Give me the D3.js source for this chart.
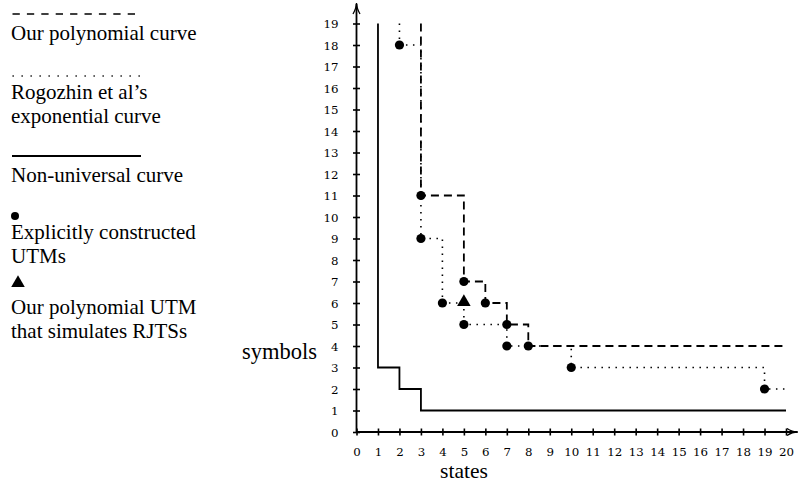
<!DOCTYPE html>
<html>
<head>
<meta charset="utf-8">
<script src="https://cdn.jsdelivr.net/npm/d3@7"></script>
<style>
  body{margin:0;background:#fff;}
  svg{display:block;}
  .lbl{font-family:"Liberation Serif","Times New Roman",serif;font-size:22.5px;fill:#000;}
  .leg{font-family:"Liberation Serif","Times New Roman",serif;font-size:21px;fill:#000;}
  .tick text{font-family:"DejaVu Serif",serif;font-size:11.8px;fill:#000;}
</style>
</head>
<body>
<svg id="svg" width="801" height="483"></svg>
<script>
// axis ticks
const stateTicks=[0,1,2,3,4,5,6,7,8,9,10,11,12,13,14,15,16,17,18,19,20];
const symbolTicks=[0,1,2,3,4,5,6,7,8,9,10,11,12,13,14,15,16,17,18,19];

// step curves as [states, symbols]
const polyCurve=[[3,19],[3,11],[5,11],[5,7],[6,7],[6,6],[7,6],[7,5],[8,5],[8,4],[20,4]];
const expCurve=[[2,19],[2,18],[3,18],[3,9],[4,9],[4,6],[5,6],[5,5],[7,5],[7,4],[10,4],[10,3],[19,3],[19,2],[20,2]];
const nonUniversalCurve=[[1,19],[1,3],[2,3],[2,2],[3,2],[3,1],[20,1]];

// machines
const utmPoints=[[2,18],[3,11],[3,9],[4,6],[5,7],[5,5],[6,6],[7,5],[7,4],[8,4],[10,3],[19,2]];
const rjtsPoints=[[5,6]];

// legend
const legendItems=[
  {kind:"dashed",y:14,lines:["Our polynomial curve"],ty:40},
  {kind:"dotted",y:76,lines:["Rogozhin et al\u2019s","exponential curve"],ty:99},
  {kind:"solid",y:156,lines:["Non-universal curve"],ty:182},
  {kind:"dot",y:216,lines:["Explicitly constructed","UTMs"],ty:239},
  {kind:"tri",y:283,lines:["Our polynomial UTM","that simulates RJTSs"],ty:314}
];

var svg=d3.select("#svg");

var x=d3.scaleLinear().domain([0,20]).range([356.5,786]);
var y=d3.scaleLinear().domain([0,19]).range([432,23.5]);

// axes
var xAxis=svg.append("g").attr("transform","translate(0,"+y(0)+")")
    .call(d3.axisBottom(x).tickValues(stateTicks).tickSize(0).tickFormat(d=>d))
xAxis.select(".domain").remove();
xAxis.selectAll(".tick text").attr("y",23.5).attr("dy",0);
xAxis.selectAll(".tick").append("line").attr("y1",-3.5).attr("y2",3.5).attr("stroke","#000").attr("stroke-width",1.6);

var yAxis=svg.append("g").attr("transform","translate("+x(0)+",0)")
    .call(d3.axisLeft(y).tickValues(symbolTicks).tickSize(0).tickPadding(18).tickFormat(d=>d))
yAxis.select(".domain").remove();
yAxis.selectAll(".tick text").attr("dy","0.36em");
yAxis.selectAll(".tick").append("line").attr("x1",-3.5).attr("x2",3.5).attr("stroke","#000").attr("stroke-width",1.6);

// axis lines with arrows
svg.append("line").attr("x1",x(0)).attr("y1",y(0)).attr("x2",x(0)).attr("y2",4)
    .attr("stroke","#000").attr("stroke-width",1.8);
svg.append("path").attr("d","M"+(x(0)-3.5)+",14 Q"+x(0)+",8 "+x(0)+",3 Q"+x(0)+",8 "+(x(0)+3.5)+",14")
    .attr("fill","none").attr("stroke","#000").attr("stroke-width",1.3);
svg.append("line").attr("x1",x(0)).attr("y1",y(0)).attr("x2",797).attr("y2",y(0))
    .attr("stroke","#000").attr("stroke-width",1.8);
svg.append("path").attr("d","M787,"+(y(0)-3.5)+" Q792,"+y(0)+" 798,"+y(0)+" Q792,"+y(0)+" 787,"+(y(0)+3.5))
    .attr("fill","none").attr("stroke","#000").attr("stroke-width",1.3);

// curves
var line=d3.line().x(d=>x(d[0])).y(d=>y(d[1]));
svg.append("path").datum(nonUniversalCurve).attr("d",line)
    .attr("fill","none").attr("stroke","#000").attr("stroke-width",1.8);
svg.append("path").datum(polyCurve).attr("d",line)
    .attr("fill","none").attr("stroke","#000").attr("stroke-width",1.8).attr("stroke-dasharray","8,5");
svg.append("path").datum(expCurve).attr("d",line)
    .attr("fill","none").attr("stroke","#000").attr("stroke-width",1.6).attr("stroke-dasharray","1.5,5.5");

// points
svg.selectAll("circle.utm").data(utmPoints).enter().append("circle")
    .attr("class","utm")
    .attr("cx",d=>x(d[0])).attr("cy",d=>y(d[1])).attr("r",4.6).attr("fill","#000");
svg.selectAll("path.rjts").data(rjtsPoints).enter().append("path")
    .attr("class","rjts")
    .attr("d",d3.symbol().type(d3.symbolTriangle).size(80))
    .attr("transform",d=>"translate("+x(d[0])+","+(y(d[1])-1)+")")
    .attr("fill","#000");

// axis titles
svg.append("text").attr("class","lbl").attr("x",464).attr("y",478).attr("text-anchor","middle")
    .style("font-size","21.5px").text("states");
svg.append("text").attr("class","lbl").attr("x",317).attr("y",359).attr("text-anchor","end").text("symbols");

// legend
var leg=svg.append("g");
legendItems.forEach(item=>{
    if(item.kind=="dashed"){
        leg.append("line").attr("x1",12.5).attr("x2",142).attr("y1",item.y).attr("y2",item.y)
            .attr("stroke","#000").attr("stroke-width",1.5).attr("stroke-dasharray","7.3,7.1");
    } else if(item.kind=="dotted"){
        leg.append("line").attr("x1",12.5).attr("x2",142).attr("y1",item.y).attr("y2",item.y)
            .attr("stroke","#000").attr("stroke-width",1.3).attr("stroke-dasharray","1.3,7.7");
    } else if(item.kind=="solid"){
        leg.append("line").attr("x1",12).attr("x2",141).attr("y1",item.y).attr("y2",item.y)
            .attr("stroke","#000").attr("stroke-width",1.8);
    } else if(item.kind=="dot"){
        leg.append("circle").attr("cx",15).attr("cy",item.y).attr("r",4).attr("fill","#000");
    } else {
        leg.append("path").attr("d",d3.symbol().type(d3.symbolTriangle).size(80))
            .attr("transform","translate(18,"+item.y+")").attr("fill","#000");
    }
    item.lines.forEach((s,i)=>{
        leg.append("text").attr("class","leg").attr("x",11).attr("y",item.ty+i*23.6).text(s);
    })
})
</script>
</body>
</html>
